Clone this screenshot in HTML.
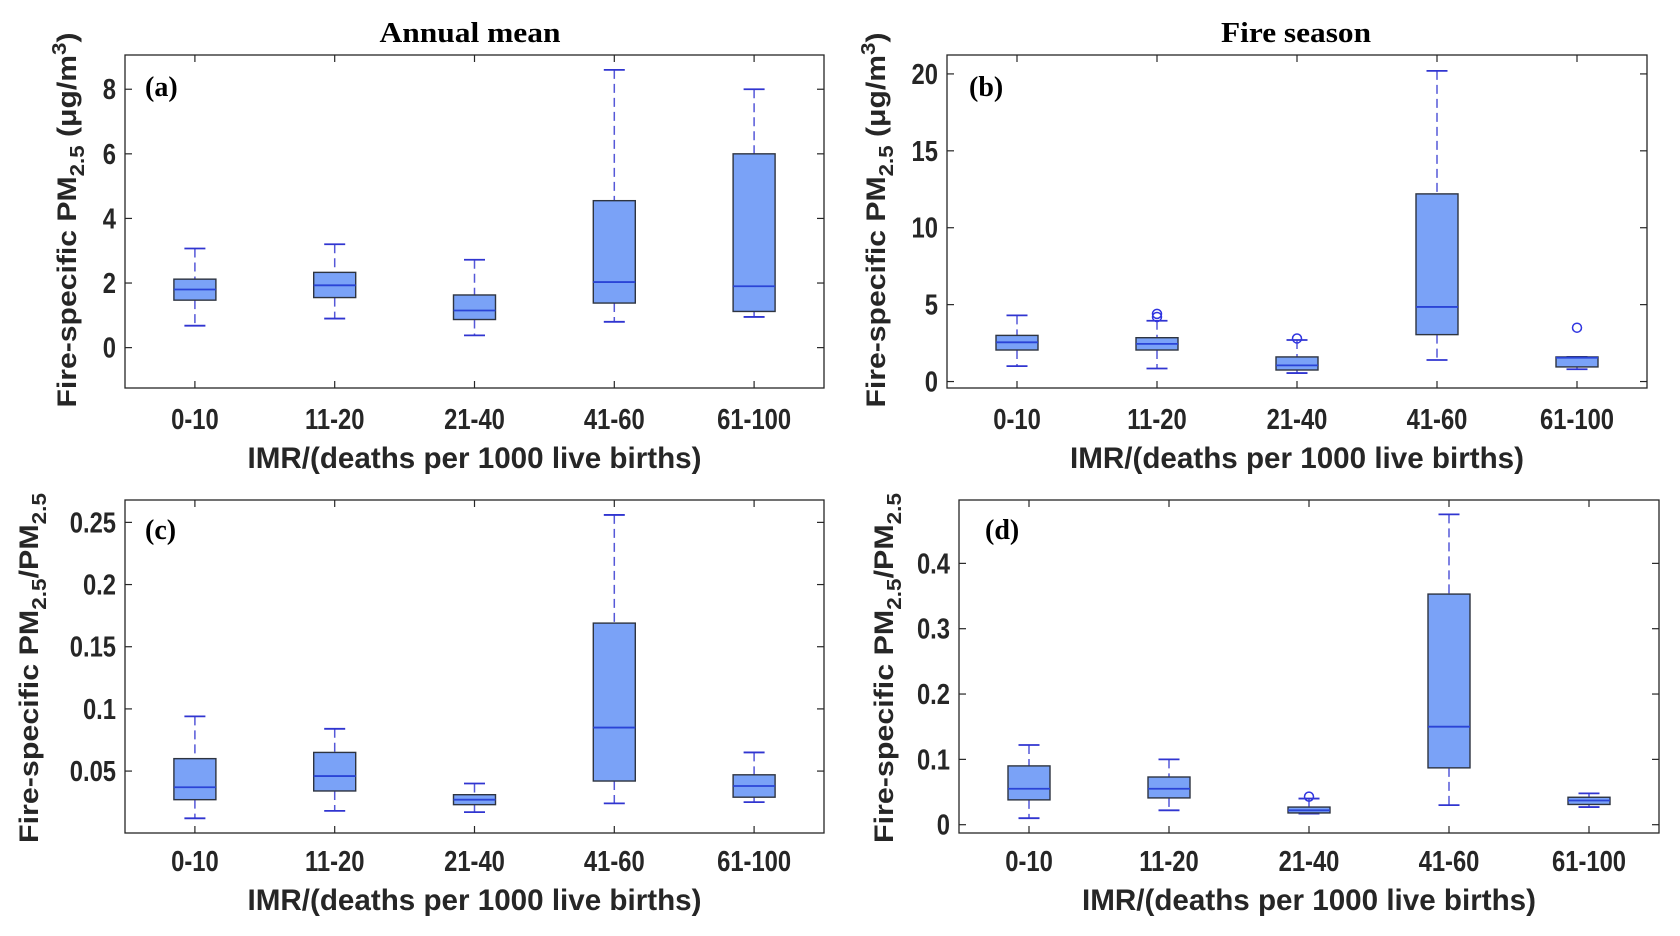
<!DOCTYPE html>
<html><head><meta charset="utf-8"><style>
html,body{margin:0;padding:0;background:#fff;}
svg{display:block;}
</style></head><body>
<svg id="fig" width="1680" height="936" viewBox="0 0 1680 936" xmlns="http://www.w3.org/2000/svg">
<text x="470" y="42" font-family="Liberation Serif, serif" font-weight="bold" font-size="28" text-anchor="middle" textLength="181" lengthAdjust="spacingAndGlyphs">Annual mean</text>
<text x="1296" y="42" font-family="Liberation Serif, serif" font-weight="bold" font-size="28" text-anchor="middle" textLength="150" lengthAdjust="spacingAndGlyphs">Fire season</text>
</svg>
<script>
const categories = ["0-10","11-20","21-40","41-60","61-100"];
// panel a
const aLow = [0.68,0.9,0.38,0.8,0.95];
const aQ1 = [1.47,1.55,0.87,1.38,1.12];
const aMed = [1.8,1.93,1.15,2.03,1.9];
const aQ3 = [2.12,2.33,1.63,4.55,6.0];
const aHigh = [3.07,3.2,2.72,8.6,8.0];
const aOut = [[],[],[],[],[]];
const aTicks = [0,2,4,6,8];
// panel b
const bLow = [1.0,0.85,0.55,1.4,0.8];
const bQ1 = [2.05,2.05,0.75,3.05,0.95];
const bMed = [2.55,2.45,1.05,4.85,1.55];
const bQ3 = [3.0,2.85,1.6,12.2,1.6];
const bHigh = [4.3,3.95,2.7,20.2,1.6];
const bOut = [[],[4.2,4.4],[2.8],[],[3.5]];
const bTicks = [0,5,10,15,20];
// panel c
const cLow = [0.012,0.018,0.017,0.024,0.025];
const cQ1 = [0.027,0.034,0.023,0.042,0.029];
const cMed = [0.037,0.046,0.027,0.085,0.038];
const cQ3 = [0.06,0.065,0.031,0.169,0.047];
const cHigh = [0.094,0.084,0.040,0.256,0.065];
const cOut = [[],[],[],[],[]];
const cTicks = [0.05,0.1,0.15,0.2,0.25];
const cTickLabels = ["0.05","0.1","0.15","0.2","0.25"];
// panel d
const dLow = [0.01,0.022,0.017,0.03,0.027];
const dQ1 = [0.038,0.041,0.018,0.087,0.031];
const dMed = [0.055,0.055,0.022,0.15,0.037];
const dQ3 = [0.09,0.073,0.027,0.353,0.042];
const dHigh = [0.122,0.1,0.04,0.475,0.048];
const dOut = [[],[],[0.043],[],[]];
const dTicks = [0,0.1,0.2,0.3,0.4];
const dTickLabels = ["0","0.1","0.2","0.3","0.4"];

const NS="http://www.w3.org/2000/svg";
const svg=document.getElementById('fig');
function mk(tag,attrs,parent){const e=document.createElementNS(NS,tag);for(const k in attrs)e.setAttribute(k,attrs[k]);(parent||svg).appendChild(e);return e;}

function panel(p){
  const g=mk('g',{});
  
  
  const L=p.left,R=p.right,T=p.top,B=p.bottom,W=R-L;
  const ys=v=>B-(v-p.ymin)/(p.ymax-p.ymin)*(B-T);
  const xs=i=>L+W*(i+0.5)/categories.length;
  const frame=mk('rect',{x:L,y:T,width:W,height:B-T,fill:'none',stroke:'#262626','stroke-width':1.3},g);
  
  
  p.ticks.forEach((t,k)=>{
    const y=ys(t);
    mk('line',{x1:L,x2:L+7,y1:y,y2:y,stroke:'#262626','stroke-width':1.2},g);
    mk('line',{x1:R-7,x2:R,y1:y,y2:y,stroke:'#262626','stroke-width':1.2},g);
    const tl=mk('text',{transform:`translate(${L-9},${y+10}) scale(0.82,1)`,'text-anchor':'end','font-family':'Liberation Sans, sans-serif','font-weight':'bold','font-size':29,fill:'#262626'},g);
    tl.textContent=p.tickLabels?p.tickLabels[k]:String(t);
    
    
  });
  categories.forEach((c,i)=>{
    const x=xs(i);
    mk('line',{x1:x,x2:x,y1:B,y2:B-7,stroke:'#262626','stroke-width':1.2},g);
    mk('line',{x1:x,x2:x,y1:T,y2:T+7,stroke:'#262626','stroke-width':1.2},g);
    const tl=mk('text',{transform:`translate(${x},${p.tickY}) scale(0.82,1)`,'text-anchor':'middle','font-family':'Liberation Sans, sans-serif','font-weight':'bold','font-size':29,fill:'#262626'},g);
    tl.textContent=c;
    
    
    const bw=42,cw=21;
    const box=mk('g',{},g);
    
    
    mk('line',{x1:x,x2:x,y1:ys(p.high[i]),y2:ys(p.q3[i]),stroke:'#5558d8','stroke-width':1.5,'stroke-dasharray':'9,5'},box);
    mk('line',{x1:x,x2:x,y1:ys(p.q1[i]),y2:ys(p.low[i]),stroke:'#5558d8','stroke-width':1.5,'stroke-dasharray':'9,5'},box);
    mk('line',{x1:x-cw/2,x2:x+cw/2,y1:ys(p.high[i]),y2:ys(p.high[i]),stroke:'#3035d0','stroke-width':1.8},box);
    mk('line',{x1:x-cw/2,x2:x+cw/2,y1:ys(p.low[i]),y2:ys(p.low[i]),stroke:'#3035d0','stroke-width':1.8},box);
    mk('rect',{x:x-bw/2,y:ys(p.q3[i]),width:bw,height:Math.max(1,ys(p.q1[i])-ys(p.q3[i])),fill:'#7aa2f7',stroke:'#2e3440','stroke-width':1.4},box);
    mk('line',{x1:x-bw/2,x2:x+bw/2,y1:ys(p.med[i]),y2:ys(p.med[i]),stroke:'#2a44d6','stroke-width':1.8},box);
    p.out[i].forEach(v=>{
      const o=mk('circle',{cx:x,cy:ys(v),r:4.5,fill:'none',stroke:'#3035e0','stroke-width':1.5},box);
      
      
    });
  });
  const lab=mk('text',{x:p.labX,y:p.labY,'font-family':'Liberation Serif, serif','font-weight':'bold','font-size':28,fill:'#000'},g);
  lab.textContent='('+p.id+')';
  
  
  const xl=mk('text',{x:(L+R)/2,y:p.xlY,'text-anchor':'middle','font-family':'Liberation Sans, sans-serif','font-weight':'bold','font-size':30,fill:'#262626',textLength:454,lengthAdjust:'spacingAndGlyphs'},g);
  xl.textContent='IMR/(deaths per 1000 live births)';
  
  
  const yl=mk('text',{transform:`translate(${p.ylX},${p.ylCY}) rotate(-90)`,'text-anchor':'middle','font-family':'Liberation Sans, sans-serif','font-weight':'bold','font-size':27,fill:'#262626',textLength:p.ylLen,lengthAdjust:'spacingAndGlyphs'},g);
  yl.innerHTML=p.ylHTML;
  
  
}
const ylConc='Fire-specific PM<tspan font-size="20" dy="8">2.5</tspan><tspan dy="-8"> (μg/m</tspan><tspan font-size="20" dy="-10">3</tspan><tspan dy="10">)</tspan>';
const ylRatio='Fire-specific PM<tspan font-size="20" dy="8">2.5</tspan><tspan dy="-8">/PM</tspan><tspan font-size="20" dy="8">2.5</tspan>';
panel({id:'a',left:125,right:824,top:55,bottom:388,ymin:-1.25,ymax:9.06,ticks:aTicks,low:aLow,q1:aQ1,med:aMed,q3:aQ3,high:aHigh,out:aOut,tickY:429,xlY:468,labX:145,labY:96,ylX:76,ylCY:220,ylLen:375,ylHTML:ylConc});
panel({id:'b',left:947,right:1647,top:55,bottom:388,ymin:-0.42,ymax:21.23,ticks:bTicks,low:bLow,q1:bQ1,med:bMed,q3:bQ3,high:bHigh,out:bOut,tickY:429,xlY:468,labX:969,labY:96,ylX:885,ylCY:220,ylLen:375,ylHTML:ylConc});
panel({id:'c',left:125,right:824,top:500,bottom:833,ymin:0.0002,ymax:0.268,ticks:cTicks,tickLabels:cTickLabels,low:cLow,q1:cQ1,med:cMed,q3:cQ3,high:cHigh,out:cOut,tickY:871,xlY:910,labX:145,labY:539,ylX:38,ylCY:668,ylLen:350,ylHTML:ylRatio});
panel({id:'d',left:959,right:1659,top:500,bottom:833,ymin:-0.0127,ymax:0.497,ticks:dTicks,tickLabels:dTickLabels,low:dLow,q1:dQ1,med:dMed,q3:dQ3,high:dHigh,out:dOut,tickY:871,xlY:910,labX:985,labY:539,ylX:893,ylCY:668,ylLen:350,ylHTML:ylRatio});
</script>
</body></html>
